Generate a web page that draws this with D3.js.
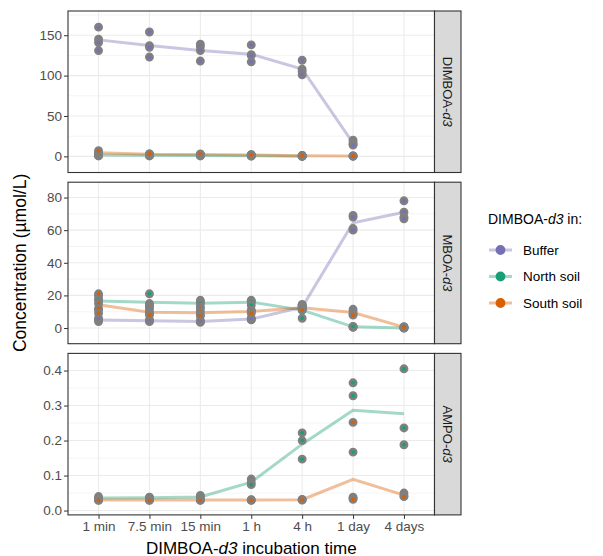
<!DOCTYPE html>
<html>
<head>
<meta charset="utf-8">
<script src="https://cdn.jsdelivr.net/npm/d3@7"></script>
<style>
  body { margin: 0; background: #fff; }
  text { font-family: "Liberation Sans", Arial, sans-serif; }
</style>
</head>
<body>
<div id="chart"></div>
<script>
const times = ['1 min', '7.5 min', '15 min', '1 h', '4 h', '1 day', '4 days']
const groups = ['Buffer', 'North soil', 'South soil']
const colors = ['#7570B3', '#1B9E77', '#D95F02']
const compounds = ['DIMBOA', 'MBOA', 'AMPO']

// replicates per time point, null = not measured
const dimboaBuffer = [[160, 145, 141, 131], [154, 137, 135, 123], [139, 136, 131, 118], [138, 126, 125, 117], [119, 108, 105, 101], [20, 17, 15, 14], null]
const dimboaNorth = [[0.5, 1, 2, 3], [0.5, 1, 1.5, 2], [0.5, 1, 1, 2], [0.3, 0.5, 1, 1.5], [0, 0.2, 0.5, 0.3], null, null]
const dimboaSouth = [[2, 4, 5, 7], [2, 2.5, 3, 3], [1.5, 2, 2.5, 3], [1, 1.5, 2, 2], [0.5, 1, 1, 1], [0.2, 0.3, 0.5, 0.5], null]

const mboaBuffer = [[4, 5, 5, 6], [4, 4.5, 4.5, 5], [3.5, 4, 4, 4.5], [5, 5.5, 5.5, 6], [14.5, 13.5, 12, 11], [69, 68, 61, 60], [78, 71, 68, 67]]
const mboaNorth = [[20, 18, 17, 11], [21, 15, 14, 13], [17, 16, 15, 13], [17, 16.5, 16, 14], [14, 12, 12, 6], [0.5, 0.6, 0.8, 1], [0, 0.1, 0.1, 0.2]]
const mboaSouth = [[21, 15, 12, 9], [12, 10, 9, 8], [12, 10, 8, 7.5], [11, 10.5, 10, 9], [14, 13, 12, 11], [11.5, 10, 8.5, 8], [0.3, 0.5, 0.5, 0.8]]

const ampoBuffer = [null, null, null, null, null, null, null]
const ampoNorth = [[0.04, 0.035, 0.032], [0.038, 0.037, 0.034], [0.043, 0.04, 0.034], [0.09, 0.08, 0.074], [0.222, 0.2, 0.147], [0.365, 0.328, 0.167], [0.405, 0.236, 0.188]]
const ampoSouth = [[0.031, 0.03, 0.029], [0.031, 0.03, 0.029], [0.031, 0.03, 0.029], [0.031, 0.03, 0.029], [0.032, 0.031, 0.03], [0.252, 0.038, 0.035, 0.032], [0.05, 0.042, 0.04]]

const yDomains = [[-20, 180], [-9.6, 89.4], [-0.0124, 0.449]]
const yTicks = [[0, 50, 100, 150], [0, 20, 40, 60, 80], [0, 0.1, 0.2, 0.3, 0.4]]

const panelData = [
  [dimboaBuffer, dimboaNorth, dimboaSouth],
  [mboaBuffer, mboaNorth, mboaSouth],
  [ampoBuffer, ampoNorth, ampoSouth],
]

const W = 603
const H = 556
const plotLeft = 68
const plotRight = 434.5
const stripW = 26.5
const plotTop = 11
const panelH = 161.5
const gap = 9.7

const svg = d3.select('#chart').append('svg')
  .attr('width', W).attr('height', H)

const x = d3.scalePoint().domain(times).range([plotLeft, plotRight]).padding(0.6)
const color = d3.scaleOrdinal().domain(groups).range(colors)

compounds.forEach((cpd, i) => {
  const y0 = plotTop + i * (panelH + gap)
  const y = d3.scaleLinear().domain(yDomains[i]).range([y0 + panelH, y0])
  const g = svg.append('g')

  g.append('rect').attr('x', plotLeft).attr('y', y0)
    .attr('width', plotRight - plotLeft).attr('height', panelH).attr('fill', '#fff')

  // minor grid at midpoints of major ticks
  const t = yTicks[i]
  const step = t[1] - t[0]
  const minor = d3.range(-1, t.length).map(k => t[0] + (k + 0.5) * step)
    .filter(v => v > yDomains[i][0] && v < yDomains[i][1])
  g.selectAll('.minor').data(minor).join('line')
    .attr('x1', plotLeft).attr('x2', plotRight)
    .attr('y1', d => y(d)).attr('y2', d => y(d))
    .attr('stroke', '#ebebeb').attr('stroke-width', 0.55)
  g.selectAll('.major').data(t).join('line')
    .attr('x1', plotLeft).attr('x2', plotRight)
    .attr('y1', d => y(d)).attr('y2', d => y(d))
    .attr('stroke', '#ebebeb').attr('stroke-width', 1.1)
  g.selectAll('.vmajor').data(times).join('line')
    .attr('x1', d => x(d)).attr('x2', d => x(d))
    .attr('y1', y0).attr('y2', y0 + panelH)
    .attr('stroke', '#ebebeb').attr('stroke-width', 1.1)

  // mean lines
  groups.forEach((grp, j) => {
    const reps = panelData[i][j]
    const means = times.map((tm, k) => reps[k] ? { t: tm, v: d3.mean(reps[k]) } : null)
      .filter(d => d)
    if (means.length < 2) return
    g.append('path').datum(means)
      .attr('d', d3.line().x(d => x(d.t)).y(d => y(d.v)))
      .attr('fill', 'none').attr('stroke', color(grp))
      .attr('stroke-opacity', 0.4).attr('stroke-width', 3)
  })

  // replicate points
  groups.forEach((grp, j) => {
    const reps = panelData[i][j]
    const pts = []
    times.forEach((tm, k) => { if (reps[k]) reps[k].forEach(v => pts.push({ t: tm, v })) })
    g.selectAll(null).data(pts).join('circle')
      .attr('cx', d => x(d.t)).attr('cy', d => y(d.v)).attr('r', 3.2)
      .attr('fill', color(grp)).attr('stroke', '#808080').attr('stroke-width', 2.5)
  })

  // y axis
  const ax = g.append('g').attr('transform', `translate(${plotLeft},0)`)
    .call(d3.axisLeft(y).tickValues(t).tickSize(4).tickPadding(2)
      .tickFormat(i === 2 ? d3.format('.1f') : d3.format('d')))
  ax.select('.domain').remove()
  ax.selectAll('line').attr('stroke', '#333').attr('stroke-width', 1)
  ax.selectAll('text').attr('fill', '#4d4d4d').attr('font-size', 13.5)
    .style('font-family', '"Liberation Sans", Arial, sans-serif')

  g.append('rect').attr('x', plotLeft).attr('y', y0)
    .attr('width', plotRight - plotLeft).attr('height', panelH)
    .attr('fill', 'none').attr('stroke', '#333').attr('stroke-width', 1.1)

  // facet strip
  g.append('rect').attr('x', plotRight).attr('y', y0)
    .attr('width', stripW).attr('height', panelH)
    .attr('fill', '#d9d9d9').attr('stroke', '#333').attr('stroke-width', 1.1)
  const st = g.append('text')
    .attr('transform', `translate(${plotRight + stripW / 2},${y0 + panelH / 2}) rotate(90)`)
    .attr('text-anchor', 'middle').attr('dy', '0.35em')
    .attr('font-size', 13).attr('fill', '#1a1a1a')
  st.append('tspan').text(cpd + '-')
  st.append('tspan').attr('font-style', 'italic').text('d3')

  // x axis on bottom panel
  if (i === compounds.length - 1) {
    const xa = g.append('g').attr('transform', `translate(0,${y0 + panelH})`)
      .call(d3.axisBottom(x).tickSize(4).tickPadding(3))
    xa.select('.domain').remove()
    xa.selectAll('line').attr('stroke', '#333')
    xa.selectAll('text').attr('fill', '#4d4d4d').attr('font-size', 13.5)
      .style('font-family', '"Liberation Sans", Arial, sans-serif')
  }
})

// axis titles
const xt = svg.append('text').attr('x', (plotLeft + plotRight) / 2).attr('y', 553.5)
  .attr('text-anchor', 'middle').attr('font-size', 17).attr('fill', '#000')
xt.append('tspan').text('DIMBOA-')
xt.append('tspan').attr('font-style', 'italic').text('d3')
xt.append('tspan').text(' incubation time')

svg.append('text')
  .attr('transform', `translate(26,${plotTop + (3 * panelH + 2 * gap) / 2}) rotate(-90)`)
  .attr('text-anchor', 'middle').attr('font-size', 17.5).attr('fill', '#000')
  .text('Concentration (µmol/L)')

// legend
const lg = svg.append('g')
const lt = lg.append('text').attr('x', 488).attr('y', 224).attr('font-size', 14).attr('fill', '#000')
lt.append('tspan').text('DIMBOA-')
lt.append('tspan').attr('font-style', 'italic').text('d3')
lt.append('tspan').text(' in:')
const keys = lg.selectAll('.key').data(groups).join('g')
  .attr('transform', (d, k) => `translate(0,${250 + k * 26.5})`)
keys.append('line').attr('x1', 489).attr('x2', 512)
  .attr('stroke', d => color(d)).attr('stroke-opacity', 0.4).attr('stroke-width', 3)
keys.append('circle').attr('cx', 500.5).attr('r', 3.6)
  .attr('fill', d => color(d)).attr('stroke', d => color(d)).attr('stroke-width', 2.6)
keys.append('text').attr('x', 523).attr('dy', '0.35em')
  .attr('font-size', 13.5).attr('fill', '#000').text(d => d)
</script>
</body>
</html>
